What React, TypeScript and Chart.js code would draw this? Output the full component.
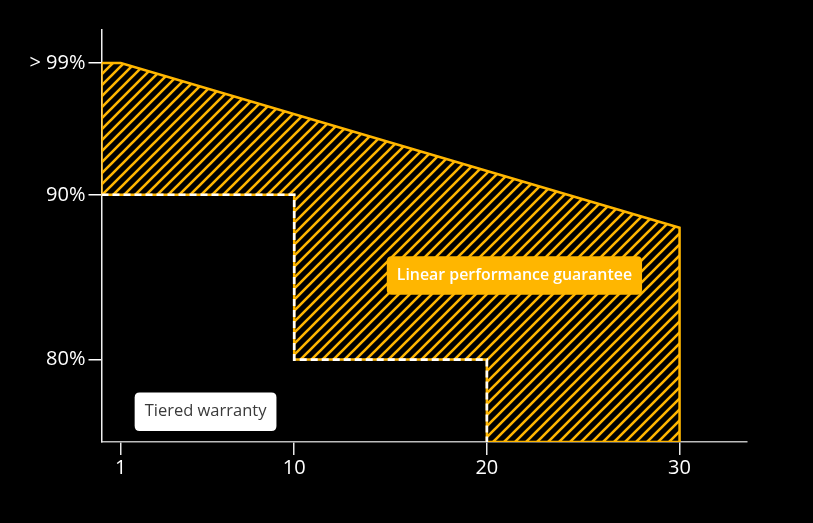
import React, { useEffect, useRef } from "react";
import { Chart, registerables } from "chart.js";

Chart.register(...registerables);

// ---- data ----
const xTicks = [1, 10, 20, 30];
const yTicks = [80, 90, 98];
const yTickLabels: Record<number, string> = { 80: "80%", 90: "90%", 98: "> 99%" };

// linear performance guarantee (upper line)
const linearX = [0, 1, 30];
const linearY = [98, 98, 88];

// tiered warranty (step line)
const tieredX = [0, 10, 10, 20, 20];
const tieredY = [90, 90, 80, 80, 75];

const xRange = [0, 33.5];
const yRange = [75, 100];

const labelTexts = ["Linear performance guarantee", "Tiered warranty"];
const labelAnchors = [
  { x: 21.43, y: 85.1 },
  { x: 5.4, y: 76.84 },
];

const ORANGE = "#FFB600";

function makeHatch(): CanvasPattern | string {
  const s = 11;
  const c = document.createElement("canvas");
  c.width = s;
  c.height = s;
  const g = c.getContext("2d");
  if (!g) return ORANGE;
  g.strokeStyle = ORANGE;
  g.lineWidth = 2.6;
  g.beginPath();
  g.moveTo(-2, 2);
  g.lineTo(2, -2);
  g.moveTo(0, s);
  g.lineTo(s, 0);
  g.moveTo(s - 2, s + 2);
  g.lineTo(s + 2, s - 2);
  g.stroke();
  const p = g.createPattern(c, "repeat");
  return p || ORANGE;
}

function roundRect(ctx: CanvasRenderingContext2D, x: number, y: number, w: number, h: number, r: number) {
  ctx.beginPath();
  ctx.moveTo(x + r, y);
  ctx.lineTo(x + w - r, y);
  ctx.quadraticCurveTo(x + w, y, x + w, y + r);
  ctx.lineTo(x + w, y + h - r);
  ctx.quadraticCurveTo(x + w, y + h, x + w - r, y + h);
  ctx.lineTo(x + r, y + h);
  ctx.quadraticCurveTo(x, y + h, x, y + h - r);
  ctx.lineTo(x, y + r);
  ctx.quadraticCurveTo(x, y, x + r, y);
  ctx.closePath();
}

const labelPlugin = {
  id: "boxLabels",
  afterDatasetsDraw(chart: any) {
    const { ctx, scales } = chart;
    const styles = [
      { bg: ORANGE, fg: "#ffffff", font: "600 15.9px 'Open Sans'", w: 254 },
      { bg: "#ffffff", fg: "#3a3a3a", font: "16.5px 'Open Sans'", w: 141 },
    ];
    labelTexts.forEach((t, i) => {
      const st = styles[i];
      const cx = scales.x.getPixelForValue(labelAnchors[i].x);
      const cy = scales.y.getPixelForValue(labelAnchors[i].y);
      ctx.save();
      ctx.font = st.font;
      const tw = ctx.measureText(t).width;
      const w = Math.max(tw + 20, st.w);
      const h = 38.5;
      ctx.fillStyle = st.bg;
      roundRect(ctx, cx - w / 2, cy - h / 2, w, h, 5);
      ctx.fill();
      ctx.fillStyle = st.fg;
      ctx.textAlign = "center";
      ctx.textBaseline = "middle";
      ctx.fillText(t, cx, cy);
      ctx.restore();
    });
  },
};

export default function App() {
  const ref = useRef<HTMLCanvasElement | null>(null);

  useEffect(() => {
    document.body.style.margin = "0";
    document.body.style.background = "#000";
    if (!ref.current) return;
    const hatch = makeHatch();

    const polygon = [
      ...linearX.map((x, i) => ({ x, y: linearY[i] })),
      { x: linearX[linearX.length - 1], y: yRange[0] },
      ...tieredX.map((x, i) => ({ x, y: tieredY[i] })).reverse(),
    ];

    const chart = new Chart(ref.current, {
      type: "line",
      data: {
        datasets: [
          {
            label: "Tiered warranty",
            data: tieredX.map((x, i) => ({ x, y: tieredY[i] })),
            fill: false,
            borderColor: "#ffffff",
            borderWidth: 2.6,
            borderDash: [7, 4],
            pointRadius: 0,
            tension: 0,
            order: 0,
          },
          {
            label: "outline",
            data: polygon.concat([polygon[0]]),
            fill: false,
            borderColor: ORANGE,
            borderWidth: 2.5,
            pointRadius: 0,
            tension: 0,
            order: 1,
          },
          {
            label: "area",
            data: polygon,
            fill: "shape",
            backgroundColor: hatch as any,
            borderWidth: 0,
            borderColor: "rgba(0,0,0,0)",
            pointRadius: 0,
            tension: 0,
            order: 2,
          },
        ],
      },
      options: {
        animation: false,
        responsive: true,
        maintainAspectRatio: false,
        layout: { padding: { top: 30, right: 66, left: 0, bottom: 0 } },
        plugins: { legend: { display: false }, tooltip: { enabled: false } },
        scales: {
          x: {
            type: "linear",
            min: xRange[0],
            max: xRange[1],
            afterBuildTicks: (s: any) => {
              s.ticks = xTicks.map((v) => ({ value: v }));
            },
            afterFit: (s: any) => {
              s.height = 81;
            },
            ticks: {
              color: "#ffffff",
              font: { family: "'Open Sans'", size: 20 },
              padding: 1,
              autoSkip: false,
              maxRotation: 0,
              callback: (v: any) => String(v),
            },
            grid: {
              drawOnChartArea: false,
              drawTicks: true,
              tickLength: 13,
              color: "#e8e8e8",
              lineWidth: 1.5,
            },
            border: { color: "#bdbdbd", width: 1.5 },
          },
          y: {
            type: "linear",
            min: yRange[0],
            max: yRange[1],
            afterBuildTicks: (s: any) => {
              s.ticks = yTicks.map((v) => ({ value: v }));
            },
            afterFit: (s: any) => {
              s.width = 101.5;
            },
            ticks: {
              color: "#ffffff",
              font: { family: "'Open Sans'", size: 20 },
              padding: 3,
              autoSkip: false,
              callback: (v: any) => yTickLabels[v] ?? `${v}%`,
            },
            grid: {
              drawOnChartArea: false,
              drawTicks: true,
              tickLength: 13,
              color: "#ffffff",
              lineWidth: 1.5,
            },
            border: { color: "#f0f0f0", width: 1.5 },
          },
        },
      },
      plugins: [labelPlugin],
    });
    return () => chart.destroy();
  }, []);

  return (
    <div style={{ position: "absolute", left: 0, top: 0, width: 813, height: 523, background: "#000" }}>
      <canvas ref={ref} />
    </div>
  );
}
